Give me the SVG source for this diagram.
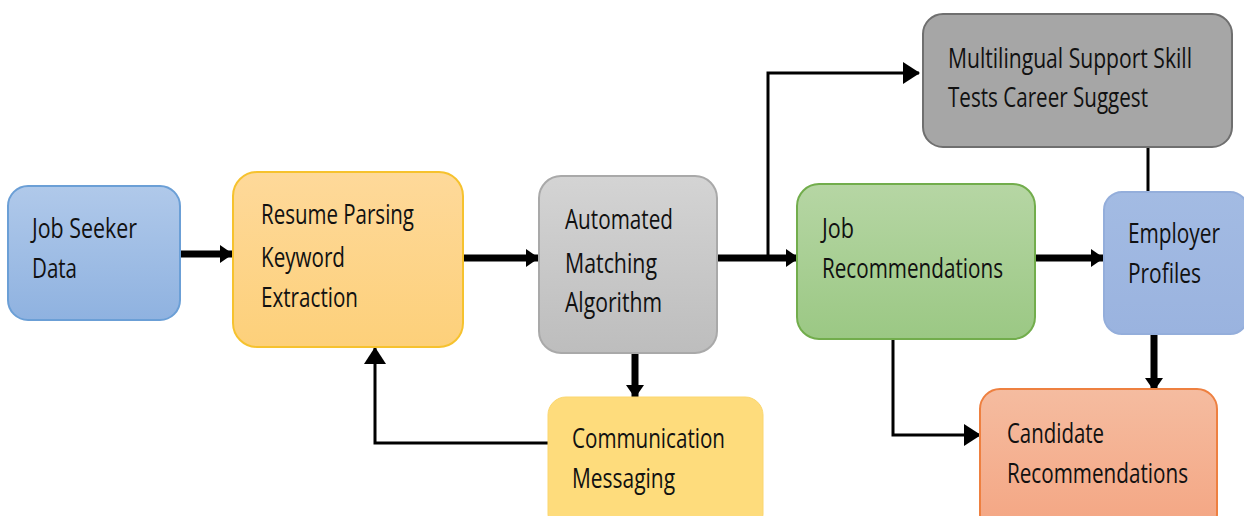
<svg xmlns="http://www.w3.org/2000/svg" width="1244" height="516" viewBox="0 0 1244 516">
<style>
text{font-family:"Open Sans","Liberation Sans",sans-serif;font-size:27px;fill:#111}
.thick{stroke:#000;stroke-width:7;fill:none}
.thin{stroke:#000;stroke-width:3;fill:none}
</style>
<defs>
<linearGradient id="gBlue" x1="0" y1="0" x2="0" y2="1"><stop offset="0" stop-color="#b0c9ea"/><stop offset="1" stop-color="#8fb2e0"/></linearGradient>
<linearGradient id="gYel" x1="0" y1="0" x2="0" y2="1"><stop offset="0" stop-color="#fed99a"/><stop offset="1" stop-color="#fdd07a"/></linearGradient>
<linearGradient id="gGray" x1="0" y1="0" x2="0" y2="1"><stop offset="0" stop-color="#d4d4d4"/><stop offset="1" stop-color="#bdbdbd"/></linearGradient>
<linearGradient id="gGreen" x1="0" y1="0" x2="0" y2="1"><stop offset="0" stop-color="#b6d6a4"/><stop offset="1" stop-color="#9bc884"/></linearGradient>
<linearGradient id="gEmp" x1="0" y1="0" x2="0" y2="1"><stop offset="0" stop-color="#a3bbe3"/><stop offset="1" stop-color="#9ab3df"/></linearGradient>
<linearGradient id="gOr" x1="0" y1="0" x2="0" y2="1"><stop offset="0" stop-color="#f5bca0"/><stop offset="1" stop-color="#f4a582"/></linearGradient>
<marker id="ah" markerUnits="userSpaceOnUse" markerWidth="14" markerHeight="18" refX="12" refY="9" orient="auto"><path d="M0,0 L13,9 L0,18 Z" fill="#000"/></marker>
<marker id="ahs" markerUnits="userSpaceOnUse" markerWidth="18" markerHeight="22" refX="16" refY="11" orient="auto"><path d="M0,0 L17,11 L0,22 Z" fill="#000"/></marker>
</defs>
<g id="connectors">
<line class="thick" x1="180" y1="254" x2="232" y2="254" marker-end="url(#ah)"/>
<line class="thick" x1="463" y1="258" x2="538" y2="258" marker-end="url(#ah)"/>
<line class="thick" x1="717" y1="258" x2="798" y2="258" marker-end="url(#ah)"/>
<polyline class="thin" points="768,258 768,73 919,73" marker-end="url(#ahs)"/>
<line class="thick" x1="1035" y1="258" x2="1103" y2="258" marker-end="url(#ah)"/>
<line class="thin" x1="1148" y1="147" x2="1148" y2="192"/>
<line class="thick" x1="1154" y1="334" x2="1154" y2="390" marker-end="url(#ah)"/>
<polyline class="thin" points="893,339 893,435 980,435" marker-end="url(#ahs)"/>
<line class="thick" x1="635" y1="353" x2="635" y2="397" marker-end="url(#ah)"/>
<polyline class="thin" points="548,443 375,443 375,348" marker-end="url(#ahs)"/>
</g>
<g id="job-seeker">
<rect x="8" y="186" width="172" height="134" rx="20" fill="url(#gBlue)" stroke="#6b9fd6" stroke-width="2"/>
<text x="32" y="238" textLength="105" lengthAdjust="spacingAndGlyphs">Job Seeker</text>
<text x="32" y="278" textLength="45" lengthAdjust="spacingAndGlyphs">Data</text>
</g>
<g id="resume">
<rect x="233" y="172" width="230" height="175" rx="24" fill="url(#gYel)" stroke="#f6c22e" stroke-width="2"/>
<text x="261" y="224" textLength="153" lengthAdjust="spacingAndGlyphs">Resume Parsing</text>
<text x="261" y="267" textLength="84" lengthAdjust="spacingAndGlyphs">Keyword</text>
<text x="261" y="307" textLength="97" lengthAdjust="spacingAndGlyphs">Extraction</text>
</g>
<g id="matching">
<rect x="539" y="176" width="178" height="177" rx="22" fill="url(#gGray)" stroke="#a9a9a9" stroke-width="2"/>
<text x="565" y="229" textLength="108" lengthAdjust="spacingAndGlyphs">Automated</text>
<text x="565" y="273" textLength="92" lengthAdjust="spacingAndGlyphs">Matching</text>
<text x="565" y="312" textLength="97" lengthAdjust="spacingAndGlyphs">Algorithm</text>
</g>
<g id="multilingual">
<rect x="923" y="14" width="309" height="133" rx="20" fill="#a6a6a6" stroke="#6f6f6f" stroke-width="2"/>
<text x="948" y="68" textLength="244" lengthAdjust="spacingAndGlyphs">Multilingual Support Skill</text>
<text x="948" y="107" textLength="200" lengthAdjust="spacingAndGlyphs">Tests Career Suggest</text>
</g>
<g id="job-recs">
<rect x="797" y="184" width="238" height="155" rx="22" fill="url(#gGreen)" stroke="#72ad4c" stroke-width="2"/>
<text x="822" y="238" textLength="32" lengthAdjust="spacingAndGlyphs">Job</text>
<text x="822" y="278" textLength="181" lengthAdjust="spacingAndGlyphs">Recommendations</text>
</g>
<g id="employer">
<rect x="1104" y="192" width="144" height="142" rx="18" fill="url(#gEmp)" stroke="#94aedb" stroke-width="2"/>
<text x="1128" y="243" textLength="92" lengthAdjust="spacingAndGlyphs">Employer</text>
<text x="1128" y="283" textLength="73" lengthAdjust="spacingAndGlyphs">Profiles</text>
</g>
<g id="candidate">
<rect x="980" y="389" width="237" height="145" rx="20" fill="url(#gOr)" stroke="#ee8040" stroke-width="2"/>
<text x="1007" y="443" textLength="97" lengthAdjust="spacingAndGlyphs">Candidate</text>
<text x="1007" y="483" textLength="181" lengthAdjust="spacingAndGlyphs">Recommendations</text>
</g>
<g id="communication">
<rect x="548" y="397" width="215" height="135" rx="18" fill="#fedc7c" stroke="#fbd66e" stroke-width="1"/>
<text x="572" y="448" textLength="153" lengthAdjust="spacingAndGlyphs">Communication</text>
<text x="572" y="488" textLength="103" lengthAdjust="spacingAndGlyphs">Messaging</text>
</g>
</svg>
